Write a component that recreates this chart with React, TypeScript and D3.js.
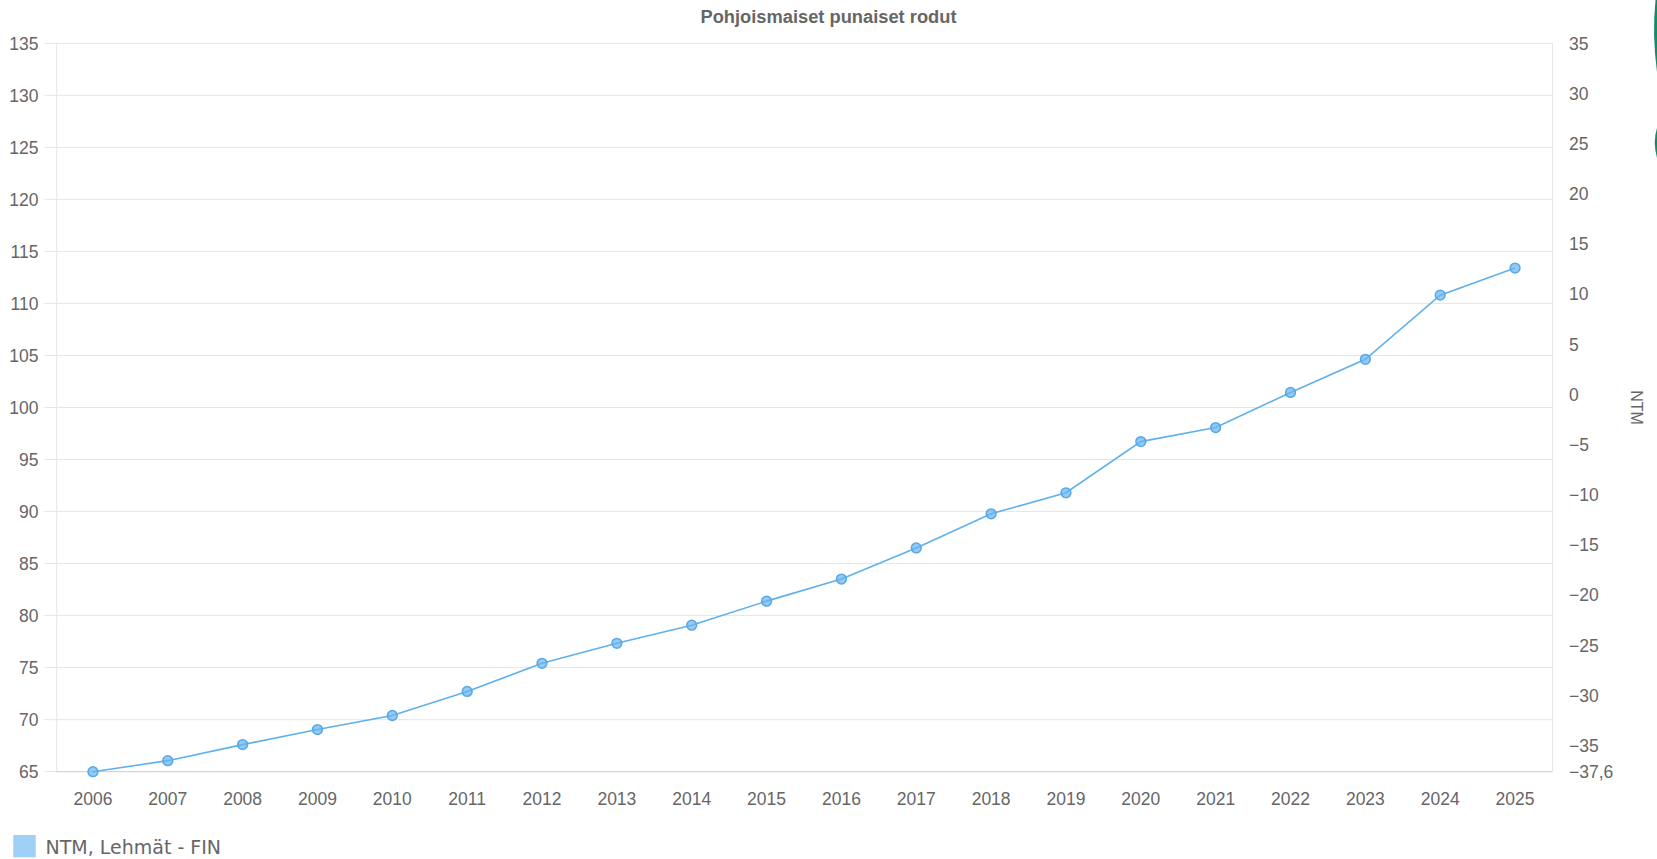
import React from "react";
import * as d3 from "d3";

const years = [
  "2006", "2007", "2008", "2009", "2010", "2011", "2012", "2013", "2014", "2015",
  "2016", "2017", "2018", "2019", "2020", "2021", "2022", "2023", "2024", "2025",
];

// NTM, Lehmät - FIN (right axis units)
const ntmValues = [
  -37.6, -36.5, -34.9, -33.4, -32.0, -29.6, -26.8, -24.8, -23.0, -20.6,
  -18.4, -15.3, -11.9, -9.8, -4.7, -3.3, 0.2, 3.5, 9.9, 12.6,
];

const leftTicks = [65, 70, 75, 80, 85, 90, 95, 100, 105, 110, 115, 120, 125, 130, 135];
const rightTicks = [35, 30, 25, 20, 15, 10, 5, 0, -5, -10, -15, -20, -25, -30, -35, -37.6];

const title = "Pohjoismaiset punaiset rodut";
const seriesName = "NTM, Lehmät - FIN";
const rightAxisTitle = "NTM";

const W = 1657;
const H = 859;
const plotLeft = 55.5;
const plotRight = 1552.5;
const plotTop = 43.3;
const plotBottom = 771.7;

const font = "'Liberation Sans', Arial, sans-serif";
const textColor = "#666666";
const gridColor = "#e6e6e6";
const lineColor = "#5fb0ec";

const fmtRight = (v: number) => {
  const s = Number.isInteger(v) ? String(Math.abs(v)) : Math.abs(v).toFixed(1).replace(".", ",");
  return v < 0 ? "\u2212" + s : s;
};

export default function App() {
  const x = d3.scaleBand<string>().domain(years).range([plotLeft, plotRight]);
  const yLeft = d3.scaleLinear().domain([65, 135]).range([plotBottom, plotTop]);
  const yRight = d3.scaleLinear().domain([-37.6, 35]).range([plotBottom, plotTop]);
  const cx = (y: string) => (x(y) ?? 0) + x.bandwidth() / 2;

  const line = d3
    .line<number>()
    .x((_, i) => cx(years[i]))
    .y((d) => yRight(d));

  return (
    <div style={{ position: "absolute", left: 0, top: 0 }}>
      <svg width={W} height={H} style={{ display: "block", background: "#fff" }}>
        {/* title */}
        <text
          x={W / 2}
          y={22.8}
          textAnchor="middle"
          fontFamily={font}
          fontWeight="bold"
          fontSize={18.3}
          fill={textColor}
        >
          {title}
        </text>

        {/* horizontal grid from the left axis, with tick stubs */}
        {leftTicks.map((t) => (
          <g key={"gl" + t}>
            <line
              x1={44.3}
              x2={plotRight}
              y1={yLeft(t)}
              y2={yLeft(t)}
              stroke={gridColor}
              strokeWidth={1}
            />
            <text
              x={38.5}
              y={yLeft(t)}
              dy="0.36em"
              textAnchor="end"
              fontFamily={font}
              fontSize={17.5}
              fill={textColor}
            >
              {t}
            </text>
          </g>
        ))}

        {/* vertical frame lines */}
        <line x1={56.7} x2={56.7} y1={plotTop} y2={plotBottom} stroke={gridColor} strokeWidth={1} />
        <line x1={plotRight} x2={plotRight} y1={plotTop} y2={plotBottom} stroke={gridColor} strokeWidth={1} />
        <line x1={plotLeft} x2={plotRight} y1={plotBottom} y2={plotBottom} stroke="#d2d2d2" strokeWidth={1} />

        {/* right axis labels */}
        {rightTicks.map((t) => (
          <text
            key={"r" + t}
            x={1569}
            y={yRight(t)}
            dy="0.36em"
            textAnchor="start"
            fontFamily={font}
            fontSize={17.5}
            fill={textColor}
          >
            {fmtRight(t)}
          </text>
        ))}
        <text
          transform={`translate(1631,407.5) rotate(90)`}
          textAnchor="middle"
          fontFamily={font}
          fontSize={16}
          fill={textColor}
        >
          {rightAxisTitle}
        </text>

        {/* x axis labels */}
        {years.map((yr) => (
          <text
            key={"x" + yr}
            x={cx(yr)}
            y={805}
            textAnchor="middle"
            fontFamily={font}
            fontSize={17.5}
            fill={textColor}
          >
            {yr}
          </text>
        ))}

        {/* series */}
        <path d={line(ntmValues) ?? ""} fill="none" stroke={lineColor} strokeWidth={1.6} />
        {ntmValues.map((v, i) => (
          <circle
            key={"p" + i}
            cx={cx(years[i])}
            cy={yRight(v)}
            r={4.9}
            fill="rgba(105,180,238,0.72)"
            stroke="#56a8e8"
            strokeWidth={1.5}
          />
        ))}

        {/* legend */}
        <rect x={13.3} y={835} width={22.4} height={22.3} fill="#9fd0f6" />
        <text
          x={45.5}
          y={854}
          fontFamily="'DejaVu Sans', Verdana, sans-serif"
          fontSize={19}
          fill={textColor}
        >
          {seriesName}
        </text>

        {/* edge ornament at the top right */}
        <path d="M1657,0 L1655.5,0 Q1652,35 1657,72 Z" fill="#138a69" />
        <path d="M1657,128 Q1652.5,142 1657,158 Z" fill="#138a69" />
      </svg>
    </div>
  );
}
